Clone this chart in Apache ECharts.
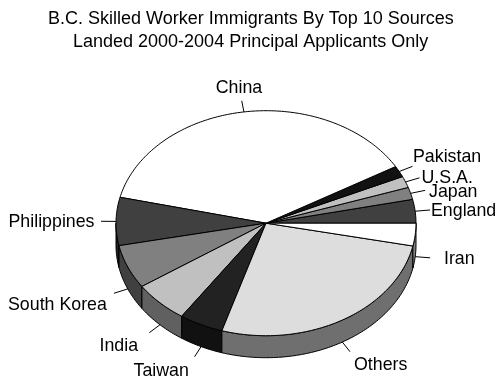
<!DOCTYPE html>
<html>
<head>
<meta charset="utf-8">
<style>html,body{margin:0;padding:0;background:#fff}#chart{width:495px;height:377px}</style>
<script src="https://cdn.jsdelivr.net/npm/echarts@6/dist/echarts.min.js"></script>
</head>
<body>
<div id="chart"></div>
<script>
// Slices run counter-clockwise from the 3 o'clock position.
const categories = ['England', 'Japan', 'U.S.A.', 'Pakistan', 'China', 'Philippines', 'South Korea', 'India', 'Taiwan', 'Others', 'Iran'];
const shares = [3.4, 1.75, 1.65, 1.6, 37.9, 6.9, 6.3, 6.0, 4.75, 26.5, 3.25];
const topGreys = [0x40, 0x80, 0xc0, 0x11, 0xff, 0x40, 0x80, 0xc0, 0x22, 0xdd, 0xff];
const titleLines = ['B.C. Skilled Worker Immigrants By Top 10 Sources', 'Landed 2000-2004 Principal Applicants Only'];

// Disc geometry of the tilted pie.
const disc = { cx: 266, cy: 223.2, rx: 150, ry: 112.5, depth: 22, leader: 1.1 };
// Text anchor for each label: [x, y, horizontal alignment].
const labelPlacement = {
  England: [431, 211, 'left'], Japan: [429, 192.5, 'left'], 'U.S.A.': [421.5, 178, 'left'],
  Pakistan: [413, 157, 'left'], China: [239, 88, 'center'], Philippines: [8.5, 222.5, 'left'],
  'South Korea': [8, 305, 'left'], India: [99.5, 346, 'left'], Taiwan: [133.5, 371, 'left'],
  Others: [354, 365.5, 'left'], Iran: [444, 259, 'left']
};

const total = shares.reduce((a, b) => a + b, 0);
const grey = g => `rgb(${g},${g},${g})`;
const rim = (deg, drop = 0, k = 1) => {
  const t = deg * Math.PI / 180;
  return [disc.cx + disc.rx * k * Math.cos(t), disc.cy - disc.ry * k * Math.sin(t) + drop];
};
const arc = (a, b, drop = 0) => {
  const pts = [];
  const n = Math.max(2, Math.ceil((b - a) / 1));
  for (let i = 0; i <= n; i++) pts.push(rim(a + (b - a) * i / n, drop));
  return pts;
};
const edge = { stroke: '#000', lineWidth: 1, lineJoin: 'round' };

function renderSides(params, api) {
  const idx = params.dataIndex;
  const before = shares.slice(0, idx).reduce((a, b) => a + b, 0);
  const a0 = before / total * 360, a1 = (before + api.value(1)) / total * 360;
  const from = Math.max(a0, 180), to = Math.min(a1, 360);
  if (to <= from) return { type: 'group', children: [] };
  const points = arc(from, to).concat(arc(from, to, disc.depth).reverse());
  return { type: 'polygon', shape: { points }, style: { fill: grey(Math.round(topGreys[idx] / 2)), ...edge } };
}

function renderTops(params, api) {
  const idx = params.dataIndex;
  const before = shares.slice(0, idx).reduce((a, b) => a + b, 0);
  const a0 = before / total * 360, a1 = (before + api.value(1)) / total * 360;
  const mid = (a0 + a1) / 2;
  const drop = mid > 180 ? disc.depth : 0;
  const name = categories[idx];
  const place = labelPlacement[name];
  const inner = rim(mid, drop), outer = rim(mid, drop, disc.leader);
  return {
    type: 'group',
    children: [
      { type: 'polygon', shape: { points: [[disc.cx, disc.cy]].concat(arc(a0, a1)) },
        style: { fill: grey(topGreys[idx]), ...edge } },
      { type: 'line', shape: { x1: inner[0], y1: inner[1], x2: outer[0], y2: outer[1] },
        style: { stroke: '#000', lineWidth: 1 } },
      { type: 'text', x: place[0], y: place[1],
        style: { text: name, fill: '#000', font: '17.8px "Liberation Sans", Arial, sans-serif',
                 align: place[2], verticalAlign: 'middle' } }
    ]
  };
}

const chart = echarts.init(document.getElementById('chart'), null, { renderer: 'canvas' });
const rows = categories.map((c, i) => [c, shares[i]]);
const titleStyle = { color: '#000', fontFamily: '"Liberation Sans", Arial, sans-serif', fontSize: 18, fontWeight: 'normal' };
chart.setOption({
  animation: false,
  backgroundColor: '#fff',
  title: [
    { text: titleLines[0], left: 48, top: 10, padding: 0, textStyle: titleStyle },
    { text: titleLines[1], left: 73, top: 33, padding: 0, textStyle: titleStyle }
  ],
  series: [
    { type: 'custom', coordinateSystem: 'none', data: rows, renderItem: renderSides, silent: true, z: 1 },
    { type: 'custom', coordinateSystem: 'none', data: rows, renderItem: renderTops, silent: true, z: 2 }
  ]
});
</script>
</body>
</html>
